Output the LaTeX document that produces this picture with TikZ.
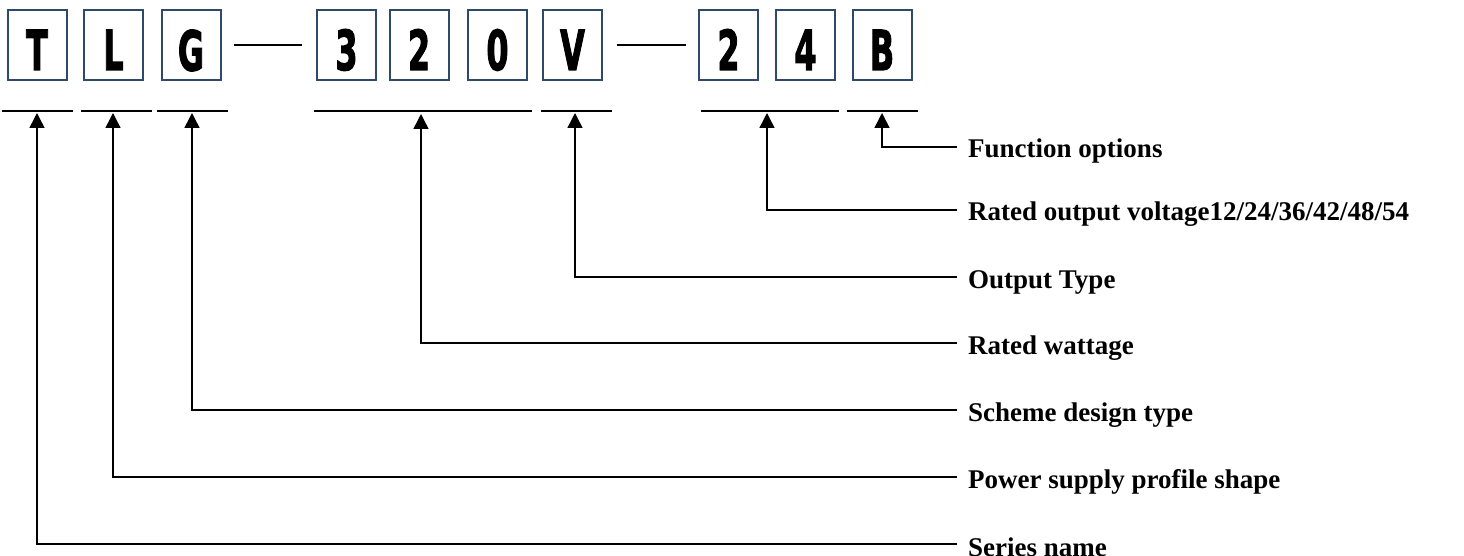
\documentclass[tikz,border=0pt]{standalone}
\usepackage{fontspec}
\usepackage{graphicx}
\setmainfont{Liberation Serif}
\newfontfamily\codefont{DejaVu Sans}[BoldFeatures={FakeBold=2.5}]
\usetikzlibrary{arrows.meta}
\definecolor{boxblue}{HTML}{2E4A68}
\newcommand{\codechar}[1]{\scalebox{0.58}[1]{#1}}

\tikzset{
  codebox/.style={draw=boxblue, line width=2pt, minimum width=59pt, minimum height=70pt,
    inner sep=0pt, text height=50pt, text depth=0pt,
    font=\codefont\bfseries\fontsize{55}{55}\selectfont},
  bar/.style={line width=2pt},
  pointer/.style={line width=1.5pt, -{Triangle[width=15pt,length=15pt]}},
  lbl/.style={anchor=base west, inner sep=0pt, font=\bfseries\fontsize{27}{32}\selectfont}
}

\begin{document}
\begin{tikzpicture}[x=1pt, y=-1pt]
	\useasboundingbox (0,0) rectangle (1464,556);
	
	% code boxes
	\node[codebox] (T) at (37,45) {\codechar{T}};
	\node[codebox] (L) at (113.5,45) {\codechar{L}};
	\node[codebox] (G) at (191,45.5) {\codechar{G}};
	
	\node[codebox] (w3) at (346.5,45) {\codechar{3}};
	\node[codebox] (w2) at (419,45) {\codechar{2}};
	\node[codebox] (w0) at (497.5,45) {\codechar{0}};
	\node[codebox] (V) at (572.5,45) {\codechar{V}};
	
	\node[codebox] (v2) at (728.5,45) {\codechar{2}};
	\node[codebox] (v4) at (805.5,45) {\codechar{4}};
	\node[codebox] (B) at (882,45) {\codechar{B}};
	
	% dashes
	\draw[bar] ([xshift=12pt]G.east |- w3.west) -- ([xshift=-14pt]w3.west);
	\draw[bar] ([xshift=14pt]V.east) -- ([xshift=-12pt]v2.west);
	
	% underlines
	\draw[bar] (2,111) -- (73,111);
	\draw[bar] (81,111) -- (152,111);
	\draw[bar] (157,111) -- (228,111);
	\draw[bar] (314,111) -- (532,111);
	\draw[bar] (541,111) -- (612,111);
	\draw[bar] (701,111) -- (839,111);
	\draw[bar] (847,111) -- (918,111);
	
	% arrow tips
	\coordinate (tT) at (37,113);
	\coordinate (tL) at (113,113);
	\coordinate (tG) at (192,113);
	\coordinate (tW) at (421,114);
	\coordinate (tV) at (575,113);
	\coordinate (tU) at (767,113);
	\coordinate (tB) at (882,113);
	
	% line ends
	\coordinate (eB) at (957,147);
	\coordinate (eU) at (957,210);
	\coordinate (eV) at (957,277);
	\coordinate (eW) at (957,343);
	\coordinate (eG) at (957,410);
	\coordinate (eL) at (957,477);
	\coordinate (eT) at (957,544);
	
	% labels
	\node[lbl] (options) at (968,158) {Function options};
	\node[lbl] (voltage) at (968,221) {Rated output voltage12/24/36/42/48/54};
	\node[lbl] (output) at (968,288) {Output Type};
	\node[lbl] (wattage) at (968,354) {Rated wattage};
	\node[lbl] (scheme) at (968,421) {Scheme design type};
	\node[lbl] (profile) at (968,488) {Power supply profile shape};
	\node[lbl] (series) at (968,556) {Series name};
	
	% pointers
	\draw[pointer] (eB) -| (tB);
	\draw[pointer] (eU) -| (tU);
	\draw[pointer] (eV) -| (tV);
	\draw[pointer] (eW) -| (tW);
	\draw[pointer] (eG) -| (tG);
	\draw[pointer] (eL) -| (tL);
	\draw[pointer] (eT) -| (tT);
\end{tikzpicture}
\end{document}
